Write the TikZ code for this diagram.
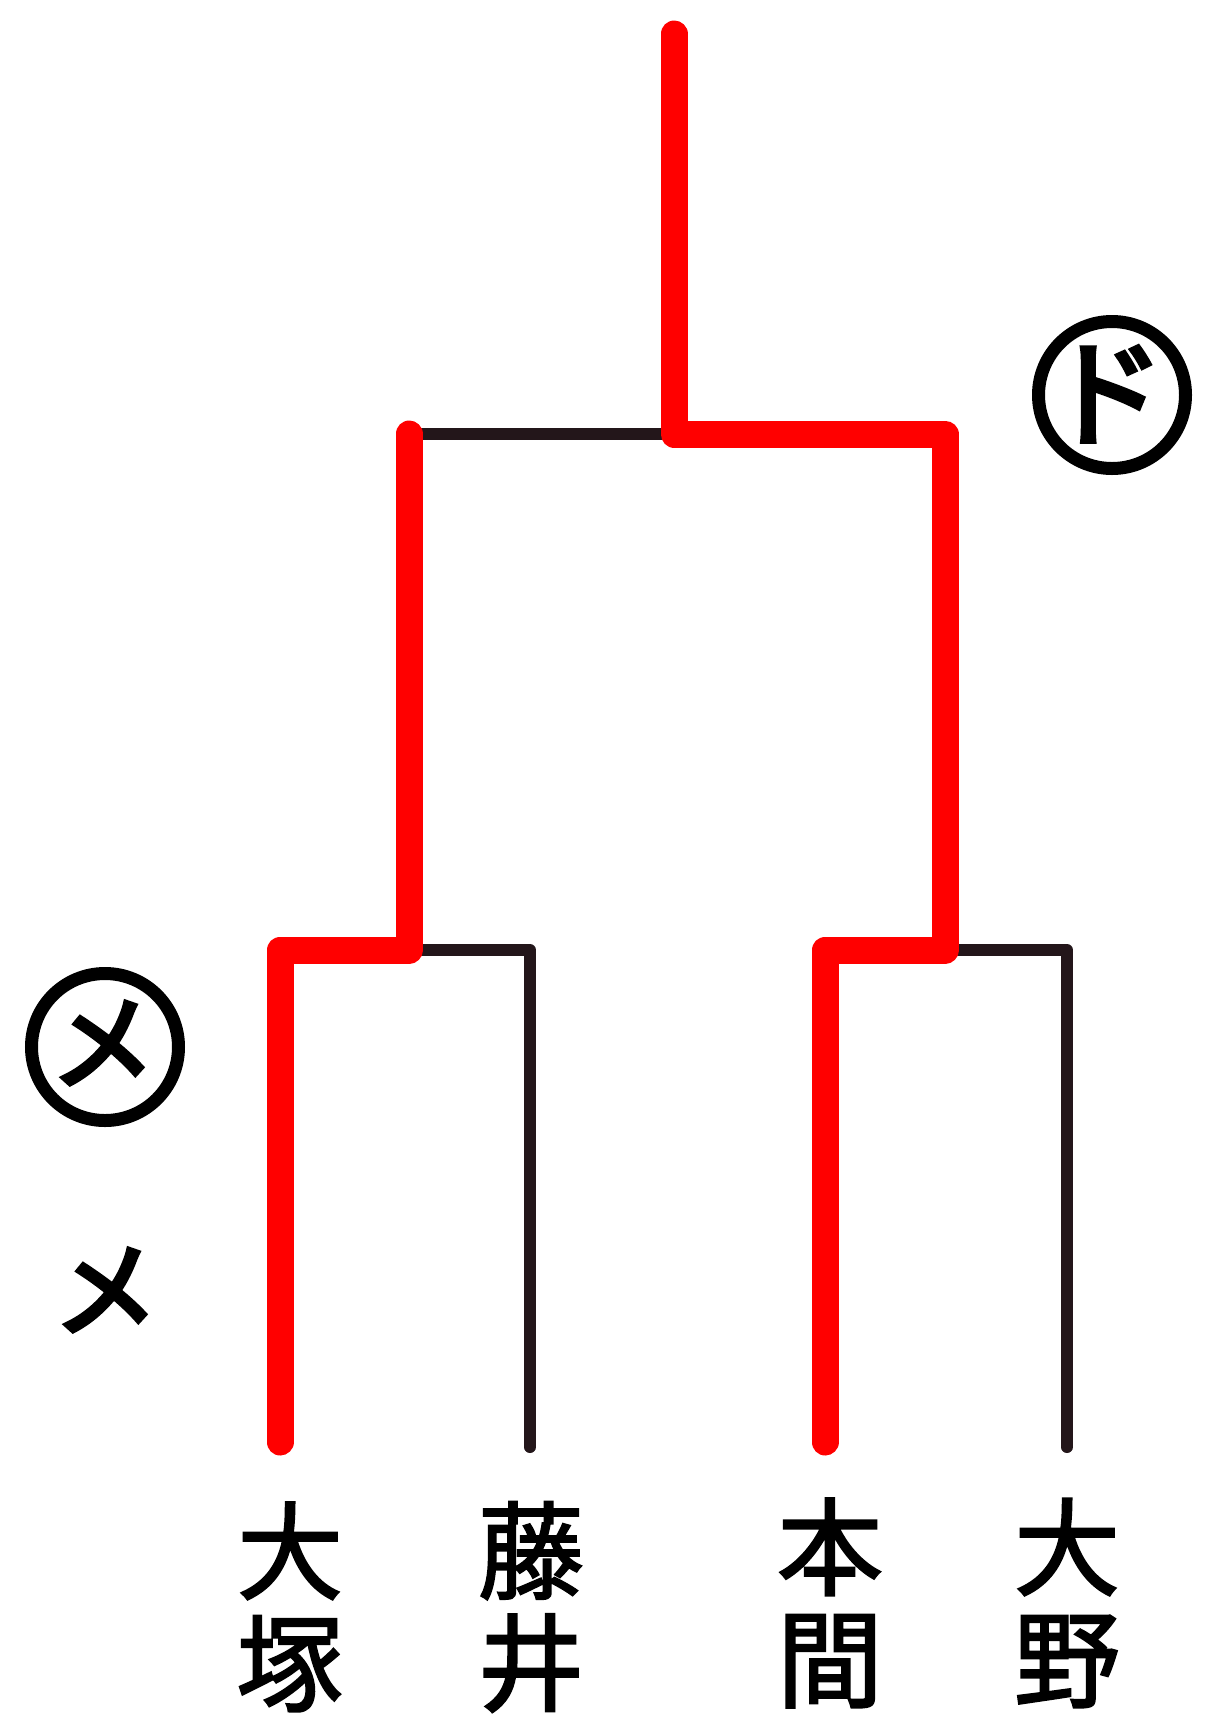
\documentclass[tikz,border=0pt]{standalone}
\usepackage{fontspec}
\newfontfamily\jp[AutoFakeBold=2]{Noto Sans CJK JP}
\newfontfamily\jpmark[AutoFakeBold=4.5]{Noto Sans CJK JP}
\definecolor{winred}{RGB}{255,0,0}
\definecolor{loseblack}{RGB}{35,22,26}
\tikzset{
  winline/.style = {draw = winred, line width = 27pt, line cap = round, line join = round},
  loseline/.style = {draw = loseblack, line width = 12pt, line cap = round, line join = round},
  player/.style = {align = center, inner sep = 0pt, font = \jp\bfseries\fontsize{106}{112}\selectfont},
  markfont/.style = {inner sep = 0pt, font = \jpmark\bfseries\fontsize{#1}{#1}\selectfont},
  ring/.style = {draw = black, line width = 13pt}
}

\begin{document}
\begin{tikzpicture}[x = 1pt, y = -1pt]
\useasboundingbox[fill = white] (0,0) rectangle (1209,1725);
\node[player] (otsuka) at (290,1607) {大\\塚};
\node[player] (fujii) at (531,1607) {藤\\井};
\node[player] (honma) at (830,1603) {本\\間};
\node[player] (ono) at (1067,1603) {大\\野};
\node[markfont = 116] (do) at (1106,394) {ド};
\node[markfont = 104] (me) at (103,1043) {メ};
\node[markfont = 104] (me2) at (106,1290) {メ};
\draw[ring] (1112,395) circle (73.5);
\draw[ring] (105,1047) circle (73.5);
\coordinate (top) at (674,34);
\coordinate (final) at (674,434);
\coordinate (semiL) at (409,434);
\coordinate (semiR) at (945,434);
\coordinate (quarterL) at (409,950);
\coordinate (quarterR) at (945,950);
\coordinate (otsukaEnd) at (280,1442);
\coordinate (fujiiEnd) at (530,1447);
\coordinate (honmaEnd) at (825,1442);
\coordinate (onoEnd) at (1067,1447);
\draw[loseline] (final) -- (semiL);
\draw[loseline] (quarterL) -| (fujiiEnd);
\draw[loseline] (quarterR) -| (onoEnd);
\draw[winline] (semiL) -- (quarterL) -| (otsukaEnd);
\draw[winline] (top) -- (final) -- (semiR) -- (quarterR) -| (honmaEnd);
\end{tikzpicture}
\end{document}
